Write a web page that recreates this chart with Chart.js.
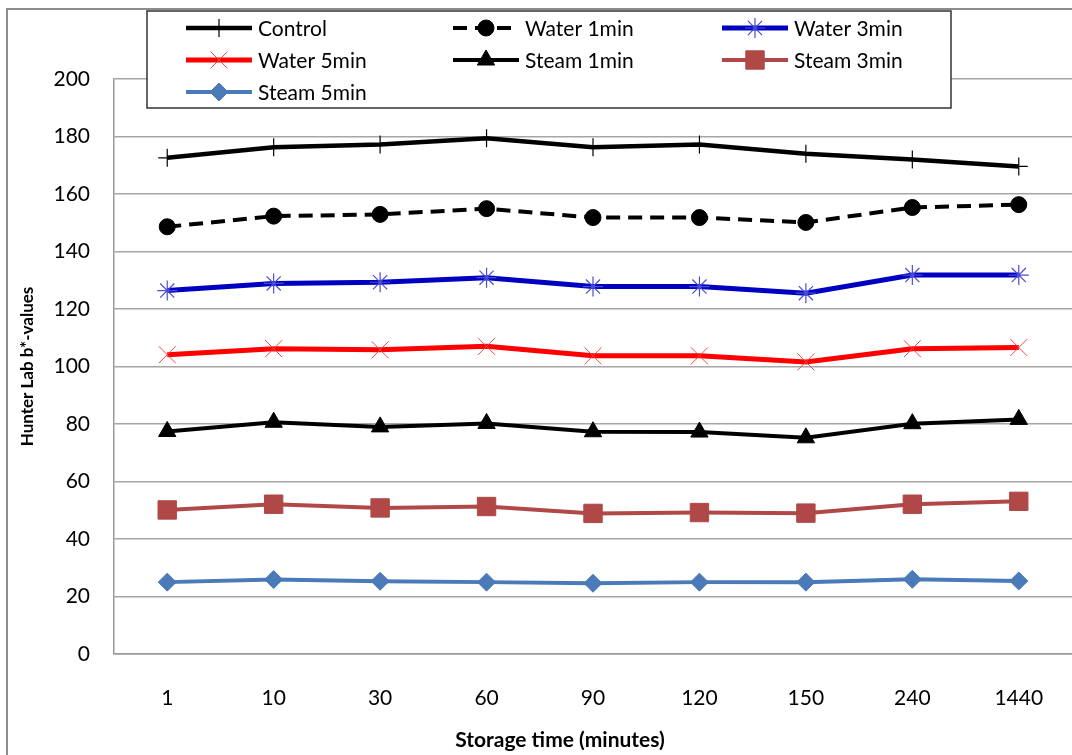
<!DOCTYPE html>
<html>
<head>
<meta charset="utf-8">
<title>Hunter Lab b*-values</title>
<script src="https://cdn.jsdelivr.net/npm/chart.js@4.4.1/dist/chart.umd.min.js"></script>
<style>
  body { margin: 0; background: #fff; }
  canvas { display: block; }
</style>
</head>
<body>
<canvas id="canvas1" width="1072" height="755"></canvas>
<script>
// storage time (minutes)
let storageTimes = ['1', '10', '30', '60', '90', '120', '150', '240', '1440'];
let yTicks = [0, 20, 40, 60, 80, 100, 120, 140, 160, 180, 200];

let control    = [172.6, 176.3, 177.2, 179.4, 176.3, 177.2, 174.0, 172.0, 169.6];
let water1min  = [148.6, 152.3, 152.9, 154.9, 151.8, 151.8, 150.1, 155.3, 156.3];
let water3min  = [126.4, 128.9, 129.3, 130.9, 127.8, 127.8, 125.5, 131.8, 131.8];
let water5min  = [104.1, 106.2, 105.8, 107.0, 103.7, 103.7, 101.6, 106.2, 106.6];
let steam1min  = [77.4, 80.6, 79.0, 80.2, 77.3, 77.2, 75.2, 80.1, 81.6];
let steam3min  = [50.1, 52.1, 50.8, 51.3, 48.9, 49.2, 49.0, 52.1, 53.1];
let steam5min  = [25.0, 25.9, 25.3, 25.0, 24.6, 25.0, 25.0, 26.0, 25.4];

let FONT = 'Lato, "Open Sans", "DejaVu Sans", sans-serif';

// white page + outer frame
let frame = {
  id: 'frame',
  beforeDraw: function(chart) {
    let ctx = chart.ctx;
    ctx.save();
    ctx.fillStyle = '#fff';
    ctx.fillRect(0, 0, chart.width, chart.height);
    ctx.strokeStyle = '#8c8c8c';
    ctx.lineWidth = 2;
    ctx.strokeRect(7, 9, chart.width + 20, chart.height + 20);
    ctx.restore();
  }
};

// axis titles, placed like the original
let axisTitles = {
  id: 'axisTitles',
  afterDraw: function(chart) {
    let ctx = chart.ctx;
    let area = chart.chartArea;
    ctx.save();
    ctx.fillStyle = '#000';
    ctx.textAlign = 'center';
    ctx.textBaseline = 'middle';
    ctx.font = 'bold 21px ' + FONT;
    ctx.fillText('Storage time (minutes)', 560, 740);
    ctx.translate(28, (area.top + area.bottom) / 2);
    ctx.rotate(-Math.PI / 2);
    ctx.font = 'bold 17px ' + FONT;
    ctx.fillText('Hunter Lab b*-values', 0, 0);
    ctx.restore();
  }
};

// boxed legend, 3 columns
let boxLegend = {
  id: 'boxLegend',
  afterDraw: function(chart) {
    let ctx = chart.ctx;
    ctx.save();
    ctx.fillStyle = '#fff';
    ctx.fillRect(147, 11, 804, 97);
    ctx.strokeStyle = '#333';
    ctx.lineWidth = 1.5;
    ctx.strokeRect(147, 11, 804, 97);

    let colX = [186, 453, 722];
    let rowY = [28, 60, 92];
    chart.data.datasets.forEach(function(ds, i) {
      let x = colX[i % 3];
      let y = rowY[Math.floor(i / 3)];
      ctx.save();
      ctx.strokeStyle = ds.borderColor;
      ctx.lineWidth = ds.borderWidth;
      ctx.setLineDash(ds.borderDash || []);
      ctx.beginPath();
      ctx.moveTo(x, y);
      ctx.lineTo(x + 66, y);
      ctx.stroke();
      ctx.restore();

      ctx.save();
      ctx.fillStyle = ds.pointBackgroundColor;
      ctx.strokeStyle = ds.pointBorderColor;
      ctx.lineWidth = ds.pointBorderWidth;
      Chart.helpers.drawPoint(ctx, {
        pointStyle: ds.pointStyle,
        radius: ds.pointRadius,
        borderWidth: ds.pointBorderWidth,
        rotation: 0
      }, x + 33, y);
      ctx.restore();

      ctx.save();
      ctx.fillStyle = '#000';
      ctx.font = '21px ' + FONT;
      ctx.textAlign = 'left';
      ctx.textBaseline = 'middle';
      ctx.fillText(ds.label, x + 72, y + 1);
      ctx.restore();
    });
    ctx.restore();
  }
};

function series(label, data, color, markColor, style, radius, lineW, markW, dash) {
  return {
    label: label,
    data: data,
    borderColor: color,
    backgroundColor: color,
    borderWidth: lineW,
    borderDash: dash || [],
    pointStyle: style,
    pointRadius: radius,
    pointHoverRadius: radius,
    pointBorderWidth: markW,
    pointBackgroundColor: markColor,
    pointBorderColor: markColor,
    tension: 0,
    fill: false
  };
}

let myChart = document.getElementById('canvas1').getContext('2d');
let bValues = new Chart(myChart, {
  type: 'line',
  data: {
    labels: storageTimes,
    datasets: [
      series('Control', control, '#000000', '#000000', 'cross', 9, 4.5, 1.2),
      series('Water 1min', water1min, '#000000', '#000000', 'circle', 8, 4, 1, [14, 8]),
      series('Water 3min', water3min, '#0000c0', '#4b4bd6', 'star', 10, 5, 1.2),
      series('Water 5min', water5min, '#ff0000', '#f04848', 'crossRot', 12, 5, 1),
      series('Steam 1min', steam1min, '#000000', '#000000', 'triangle', 10, 4, 1),
      series('Steam 3min', steam3min, '#b04848', '#b04848', 'rect', 13, 4, 1),
      series('Steam 5min', steam5min, '#4a7ab8', '#4a7ab8', 'rectRot', 9, 4, 1)
    ]
  },
  options: {
    responsive: false,
    animation: false,
    devicePixelRatio: 1,
    layout: { autoPadding: false, padding: { top: 79, left: 0, right: 0, bottom: 0 } },
    plugins: {
      legend: { display: false },
      tooltip: { enabled: false }
    },
    scales: {
      x: {
        offset: true,
        grid: { display: false, drawTicks: false },
        border: { display: true, color: '#9a9a9a', width: 1.5 },
        ticks: { color: '#000', padding: 32, font: { family: FONT, size: 21 } },
        afterFit: function(s) { s.height = 101; s.paddingLeft = 0; s.paddingRight = 0; }
      },
      y: {
        min: 0,
        max: 200,
        afterBuildTicks: function(s) { s.ticks = yTicks.map(function(v) { return { value: v }; }); },
        grid: { color: '#a6a6a6', lineWidth: 1.5, drawTicks: false },
        border: { display: true, color: '#9a9a9a', width: 1.5 },
        ticks: { color: '#000', padding: 24, font: { family: FONT, size: 21 } },
        afterFit: function(s) { s.width = 114; }
      }
    }
  },
  plugins: [frame, boxLegend, axisTitles]
});
</script>
</body>
</html>
